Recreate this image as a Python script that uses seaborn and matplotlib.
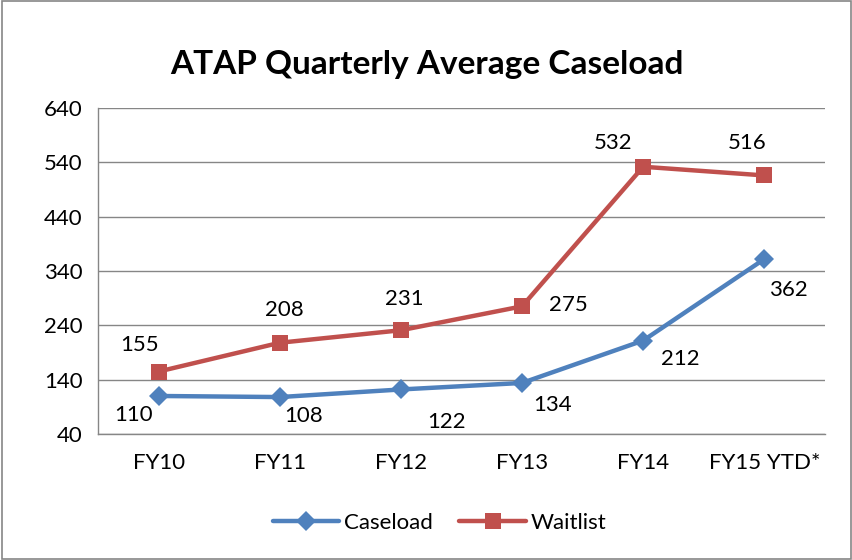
import seaborn as sns
import matplotlib.pyplot as plt
import pandas as pd
from matplotlib.patches import Rectangle

years = ["FY10", "FY11", "FY12", "FY13", "FY14", "FY15 YTD*"]
caseload = [110, 108, 122, 134, 212, 362]
waitlist = [155, 208, 231, 275, 532, 516]

sns.set_theme(style="white")
plt.rcParams["font.family"] = ["Lato", "DejaVu Sans"]
plt.rcParams["text.color"] = "black"
plt.rcParams["xtick.color"] = "black"
plt.rcParams["ytick.color"] = "black"

df = pd.DataFrame({
    "x": list(range(len(years))) * 2,
    "value": caseload + waitlist,
    "series": ["Caseload"] * len(years) + ["Waitlist"] * len(years),
})

blue, red = "#4F81BD", "#C0504D"
fs = 16
fig = plt.figure(figsize=(8.53, 5.6), dpi=100)
ax = fig.add_axes([0.115, 0.225, 0.852, 0.582])
sns.lineplot(data=df, x="x", y="value", hue="series", style="series",
             palette={"Caseload": blue, "Waitlist": red},
             markers={"Caseload": "D", "Waitlist": "s"}, dashes=False,
             linewidth=3.2, markeredgewidth=0, ax=ax, legend=False)
for line, ms in zip(ax.lines, [10, 12]):
    line.set_markersize(ms)

ax.set_xlim(-0.5, 5.5)
ax.set_ylim(40, 640)
ax.set_yticks(range(40, 641, 100))
ax.set_xticks(range(len(years)))
ax.set_xticklabels(years)
ax.set_xticks([i - 0.5 for i in range(len(years) + 1)], minor=True)
ax.tick_params(axis="x", which="major", length=0, labelsize=fs, pad=14)
ax.tick_params(axis="x", which="minor", length=6, color="#868686", width=1, direction="out")
ax.tick_params(axis="y", length=6, color="#868686", width=1, direction="out", labelsize=fs, pad=5)
ax.yaxis.grid(True, color="#868686", linewidth=1)
ax.set_xlabel("")
ax.set_ylabel("")
for s in ["top", "right"]:
    ax.spines[s].set_visible(False)
for s in ["left", "bottom"]:
    ax.spines[s].set_color("#868686")
    ax.spines[s].set_linewidth(1)

# data labels
case_off = [(-25, -19), (24, -19), (46, -33), (30, -22), (37, -18), (24, -31)]
wait_off = [(-19, 27), (5, 33), (3, 31), (46, 1), (-30, 24), (-17, 32)]
for i in range(len(years)):
    ax.annotate(str(caseload[i]), (i, caseload[i]), xytext=case_off[i],
                textcoords="offset pixels", ha="center", va="center", fontsize=fs)
    ax.annotate(str(waitlist[i]), (i, waitlist[i]), xytext=wait_off[i],
                textcoords="offset pixels", ha="center", va="center", fontsize=fs)

fig.suptitle("ATAP Quarterly Average Caseload", y=0.91, fontsize=24, fontweight="bold")

handles = [plt.Line2D([], [], color=blue, lw=3.2, marker="D", ms=10, mew=0),
           plt.Line2D([], [], color=red, lw=3.2, marker="s", ms=12, mew=0)]
fig.legend(handles, ["Caseload", "Waitlist"], loc="center", bbox_to_anchor=(0.515, 0.066),
           ncol=2, frameon=False, fontsize=fs, handlelength=3, columnspacing=1.2,
           handletextpad=0.2)

fig.add_artist(Rectangle((0.002, 0.002), 0.996, 0.996, transform=fig.transFigure,
                         fill=False, edgecolor="#868686", linewidth=1.2))

plt.savefig("out.png", dpi=100)
